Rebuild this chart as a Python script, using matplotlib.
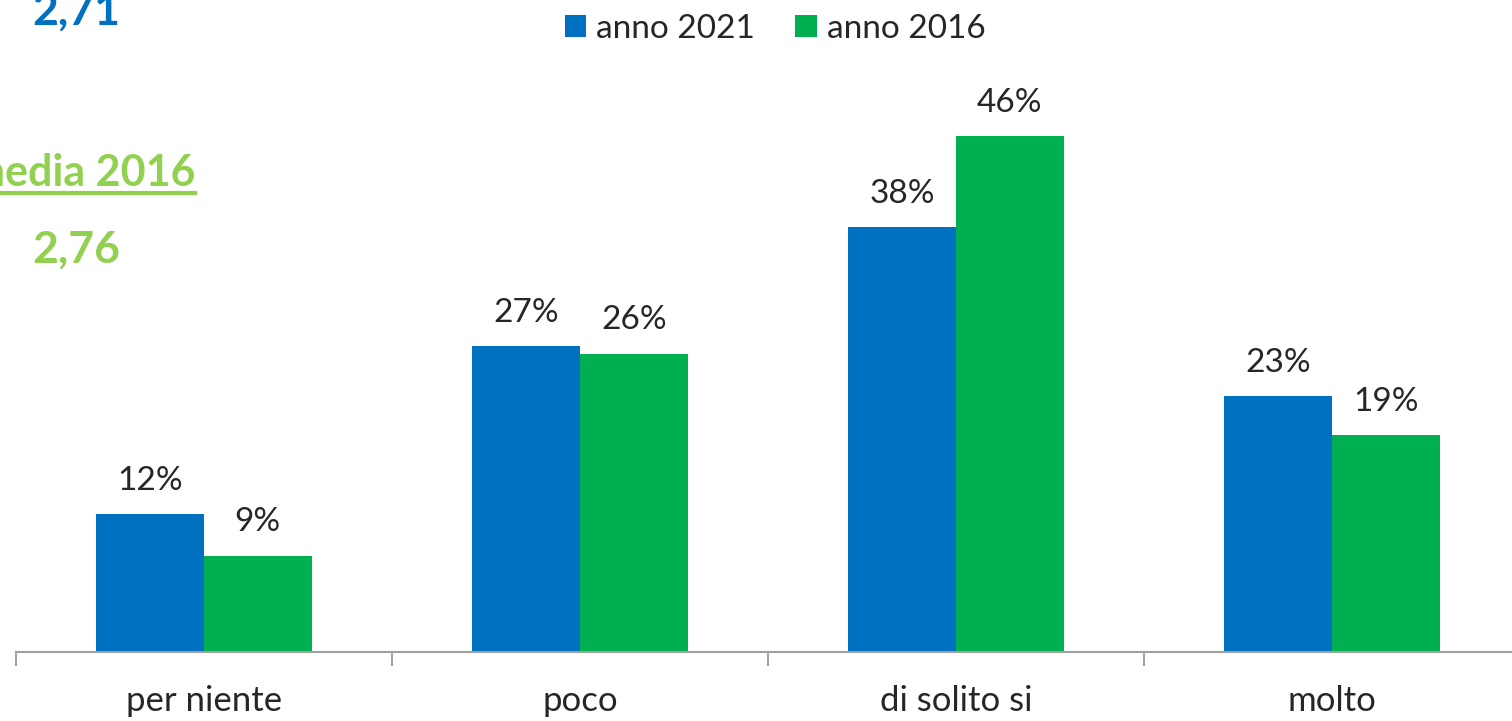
import matplotlib
matplotlib.use("Agg")
import matplotlib.pyplot as plt
from matplotlib.lines import Line2D
import numpy as np

# data
categorie = ["per niente", "poco", "di solito si", "molto"]
anno_2021 = [12.3, 27.3, 37.9, 22.8]
anno_2016 = [8.6, 26.6, 46.0, 19.3]
etichette_2021 = ["12%", "27%", "38%", "23%"]
etichette_2016 = ["9%", "26%", "46%", "19%"]
media_2021 = "2,71"
media_2016 = "2,76"

BLU = "#0070C0"
VERDE = "#00B050"
VERDE_CHIARO = "#92D050"
TESTO = "#262626"

plt.rcParams['font.family'] = ['Lato', 'DejaVu Sans']

W, H = 1512, 721
fig = plt.figure(figsize=(W / 100, H / 100), dpi=100)

# axes: baseline at y=652 px, category slots of 376 px starting at x=16
ax = fig.add_axes([16 / W, (H - 652) / H, 1504 / W, 561 / H])
ax.set_xlim(0, 4)
ax.set_ylim(0, 50)

x = np.arange(len(categorie)) + 0.5
bw = 0.286
b1 = ax.bar(x - bw / 2, anno_2021, bw, color=BLU, label="anno 2021")
b2 = ax.bar(x + bw / 2, anno_2016, bw, color=VERDE, label="anno 2016")

for rect, lab in zip(b1, etichette_2021):
    ax.annotate(lab, (rect.get_x() + rect.get_width() / 2, rect.get_height()),
                xytext=(0, 13), textcoords="offset points", ha="center", va="bottom",
                fontsize=24, color=TESTO)
for rect, lab in zip(b2, etichette_2016):
    ax.annotate(lab, (rect.get_x() + rect.get_width() / 2, rect.get_height()),
                xytext=(0, 13), textcoords="offset points", ha="center", va="bottom",
                fontsize=24, color=TESTO)

for s in ["top", "right", "left"]:
    ax.spines[s].set_visible(False)
ax.spines["bottom"].set_color("#A0A0A0")
ax.spines["bottom"].set_linewidth(1.5)
ax.set_yticks([])
ax.set_xticks([0, 1, 2, 3, 4])
ax.set_xticklabels([])
ax.tick_params(axis="x", length=10, width=1.5, color="#A0A0A0", direction="out")
for xi, c in zip(x, categorie):
    ax.text(xi, -4.4, c, ha="center", va="center", fontsize=25, color=TESTO)

leg = ax.legend(loc="center", bbox_to_anchor=(775 / W, 1 - 29 / H),
                bbox_transform=fig.transFigure, ncol=2, frameon=False,
                fontsize=24, handlelength=0.65, handleheight=0.65,
                handletextpad=0.3, columnspacing=1.2)
for t in leg.get_texts():
    t.set_color(TESTO)

# average values on the left, partly cut by the figure edge as in the source
fig.text(32 / W, 1 - 12 / H, media_2021, ha="left", va="center",
         fontsize=32, fontweight="bold", color=BLU)
fig.text(195 / W, 1 - 173 / H, "media 2016", ha="right", va="center",
         fontsize=31, fontweight="bold", color=VERDE_CHIARO)
fig.add_artist(Line2D([0, 195 / W], [1 - 193 / H, 1 - 193 / H],
                      transform=fig.transFigure, color=VERDE_CHIARO, lw=3))
fig.text(32 / W, 1 - 250 / H, media_2016, ha="left", va="center",
         fontsize=32, fontweight="bold", color=VERDE_CHIARO)

fig.savefig("out.png", dpi=100)
